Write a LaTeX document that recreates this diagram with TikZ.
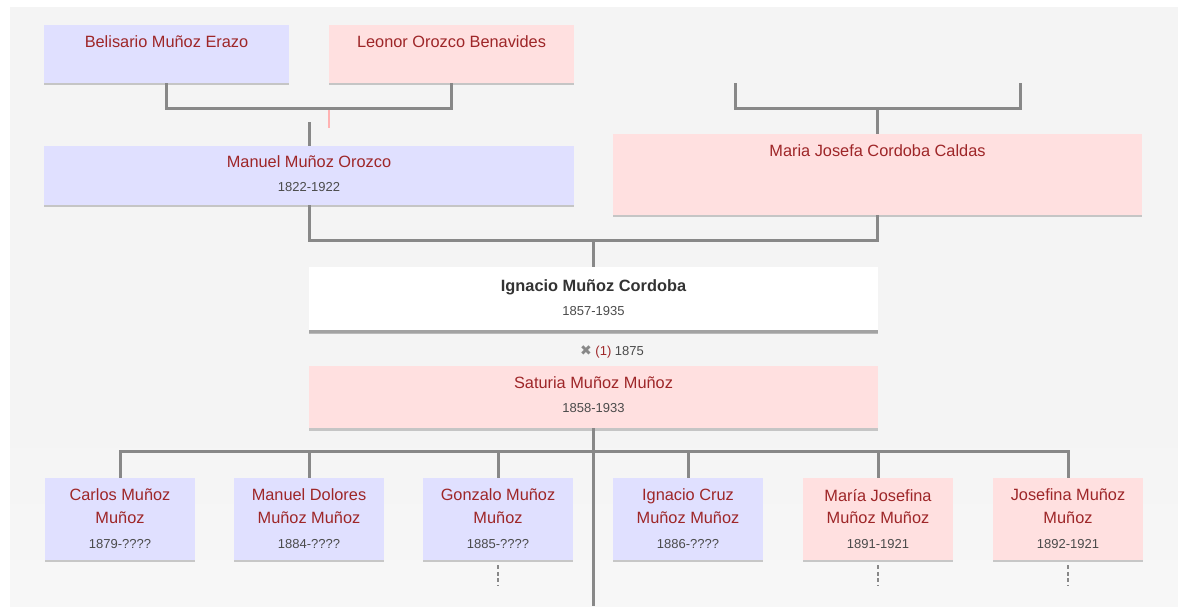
\documentclass[tikz,border=0pt]{standalone}
\usepackage{fontspec}
\setmainfont{Liberation Sans}
\newfontfamily\symfont{DejaVu Sans}
\usetikzlibrary{shadows,positioning}
\definecolor{cMale}{RGB}{224,224,255}
\definecolor{cFemale}{RGB}{255,224,224}
\definecolor{nmred}{RGB}{158,38,40}
\definecolor{yrgray}{RGB}{75,75,75}
\definecolor{lnk}{RGB}{136,136,136}
\definecolor{bg}{RGB}{244,244,244}

\begin{document}
\begin{tikzpicture}[x=0.02cm, y=-0.02cm,
        pbox/.style={rectangle, draw=none, inner sep=0pt, drop shadow={shadow xshift=0pt, shadow yshift=-0.05cm, opacity=0.4}},
        small/.style={pbox, minimum width=4.9cm, minimum height=1.16cm},
        kid/.style={pbox, minimum width=3cm, minimum height=1.64cm},
        nm/.style={font=\fontsize{9.3}{13}\selectfont, text=nmred, inner sep=0pt, align=center},
        yr/.style={font=\fontsize{7.4}{9}\selectfont, text=yrgray, inner sep=0pt},
        link/.style={draw=lnk, line width=0.06cm},
        more/.style={draw=lnk, line width=0.045cm, dash pattern=on 0.08cm off 0.05cm},
    ]
        \useasboundingbox (0,0) rectangle (1178,606);
        % backdrop
        \fill[bg] (10,7) rectangle (1178,420);
        \shade[top color=bg, bottom color=white!97!black] (10,420) rectangle (1178,606);

        % grandparents
        \node[small, fill=cMale] (belisario) at (166.5,54) {};
        \node[small, fill=cFemale] (leonor) at (451.5,54) {};
        \node[nm] (belisarioN) at (166.5,42) {Belisario Muñoz Erazo};
        \node[nm] (leonorN) at (451.5,42) {Leonor Orozco Benavides};
        \coordinate (mjL) at (735,83);
        \coordinate (mjR) at (1020,83);
        \coordinate (tick) at (329,110);

        % parents
        \node[pbox, fill=cMale, minimum width=10.6cm, minimum height=1.18cm] (manuel) at (309,175.5) {};
        \node[nm] (manuelN) at (309,162) {Manuel Muñoz Orozco};
        \node[yr] (manuelY) at (309,187) {1822-1922};
        \node[pbox, fill=cFemale, minimum width=10.58cm, minimum height=1.62cm] (maria) at (877.5,174.5) {};
        \node[nm] (mariaN) at (877.5,151) {Maria Josefa Cordoba Caldas};

        % the couple
        \node[pbox, fill=white, minimum width=11.38cm, minimum height=1.26cm,
            drop shadow={shadow xshift=0pt, shadow yshift=-0.07cm, opacity=0.5}] (ignacio) at (593.5,298.5) {};
        \node[nm, text=black!80, font=\fontsize{9.3}{13}\selectfont\bfseries] (ignacioN) at (593.5,287) {Ignacio Muñoz Cordoba};
        \node[yr] (ignacioY) at (593.5,311) {1857-1935};
        \node[yr] (wed) at (612,352) {{\symfont\color{lnk}\fontsize{8}{9}\selectfont ✖} \textcolor{nmred}{(1)} 1875};
        \node[pbox, fill=cFemale, minimum width=11.38cm, minimum height=1.24cm] (saturia) at (593.5,397) {};
        \node[nm] (saturiaN) at (593.5,383) {Saturia Muñoz Muñoz};
        \node[yr] (saturiaY) at (593.5,408) {1858-1933};
        \coordinate (tail) at (593.5,606);

        % children
        \foreach \id/\cx/\col/\nmA/\nmB/\yrs in {
            c1/120/cMale/Carlos Muñoz/Muñoz/1879-????,
            c2/309/cMale/Manuel Dolores/Muñoz Muñoz/1884-????,
            c3/498/cMale/Gonzalo Muñoz/Muñoz/1885-????,
            c4/688/cMale/Ignacio Cruz/Muñoz Muñoz/1886-????,
            c5/878/cFemale/María Josefina/Muñoz Muñoz/1891-1921,
            c6/1068/cFemale/Josefina Muñoz/Muñoz/1892-1921} {
            \node[kid, fill=\col] (\id) at (\cx,519) {};
            \node[nm] (\id n) at (\cx,506.5) {\nmA\\\nmB};
            \node[yr] (\id y) at (\cx,544) {\yrs};
        }

        % connectors
        \draw[link] (belisario.south) -- ++(0,25) -| (leonor.south);
        \draw[link] (manuel.north) -- ++(0,-24);
        \draw[draw=red!30, line width=0.035cm] (tick) -- ++(0,18);
        \draw[link] (mjL) -- ++(0,25) -| (mjR);
        \draw[link] (maria.north) -- ++(0,-26);
        \draw[link] (manuel.south) -- ++(0,35) -| (maria.south);
        \draw[link] (ignacio.north) -- ++(0,-27);
        \draw[link] (saturia.south) -- (tail);
        \draw[link] (c1.north) -- ++(0,-26) -| (c6.north);
        \foreach \id in {c2,c3,c4,c5}
            \draw[link] (\id.north) -- ++(0,-26);
        \foreach \id in {c3,c5,c6}
            \draw[more] ([yshift=-0.1cm]\id.south) -- ++(0,20);
    \end{tikzpicture}
\end{document}
